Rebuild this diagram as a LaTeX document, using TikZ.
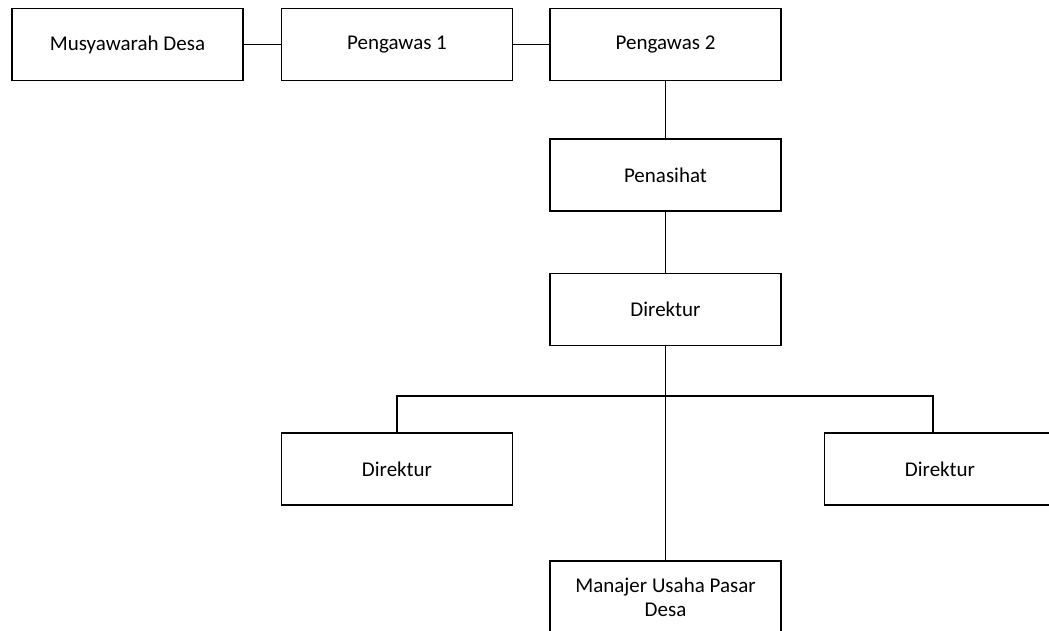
\documentclass[tikz,border=0pt]{standalone}
\usepackage{fontspec}
\setmainfont{Carlito}
\begin{document}
\begin{tikzpicture}[x=1pt, y=-1pt, line width=1.2pt,
  kotak/.style={draw, minimum width=231pt, minimum height=72pt, inner sep=0pt, align=center, font=\fontsize{21}{24}\selectfont}]
\useasboundingbox (0,0) rectangle (1049,630);
\node[kotak](musy) at (127.5,44.5){Musyawarah Desa};
\node[kotak](peng1) at (397,44.5){Pengawas 1};
\node[kotak](peng2) at (665.5,44.5){Pengawas 2};
\node[kotak](penasihat) at (665.5,175){Penasihat};
\node[kotak](direktur) at (665.5,309.5){Direktur};
\node[kotak](dirkiri) at (397,469){Direktur};
\node[kotak](dirkanan) at (940,469){Direktur};
\node[kotak](manajer) at (665.5,597){Manajer Usaha Pasar\\Desa};
\coordinate (cabang) at (665.5,396);
\draw(musy)--(peng1);
\draw(peng1)--(peng2);
\draw(peng2)--(penasihat);
\draw(penasihat)--(direktur);
\draw(direktur)--(manajer);
\draw(dirkiri.north)|-(cabang)-|([xshift=-7pt]dirkanan.north);
\end{tikzpicture}
\end{document}
